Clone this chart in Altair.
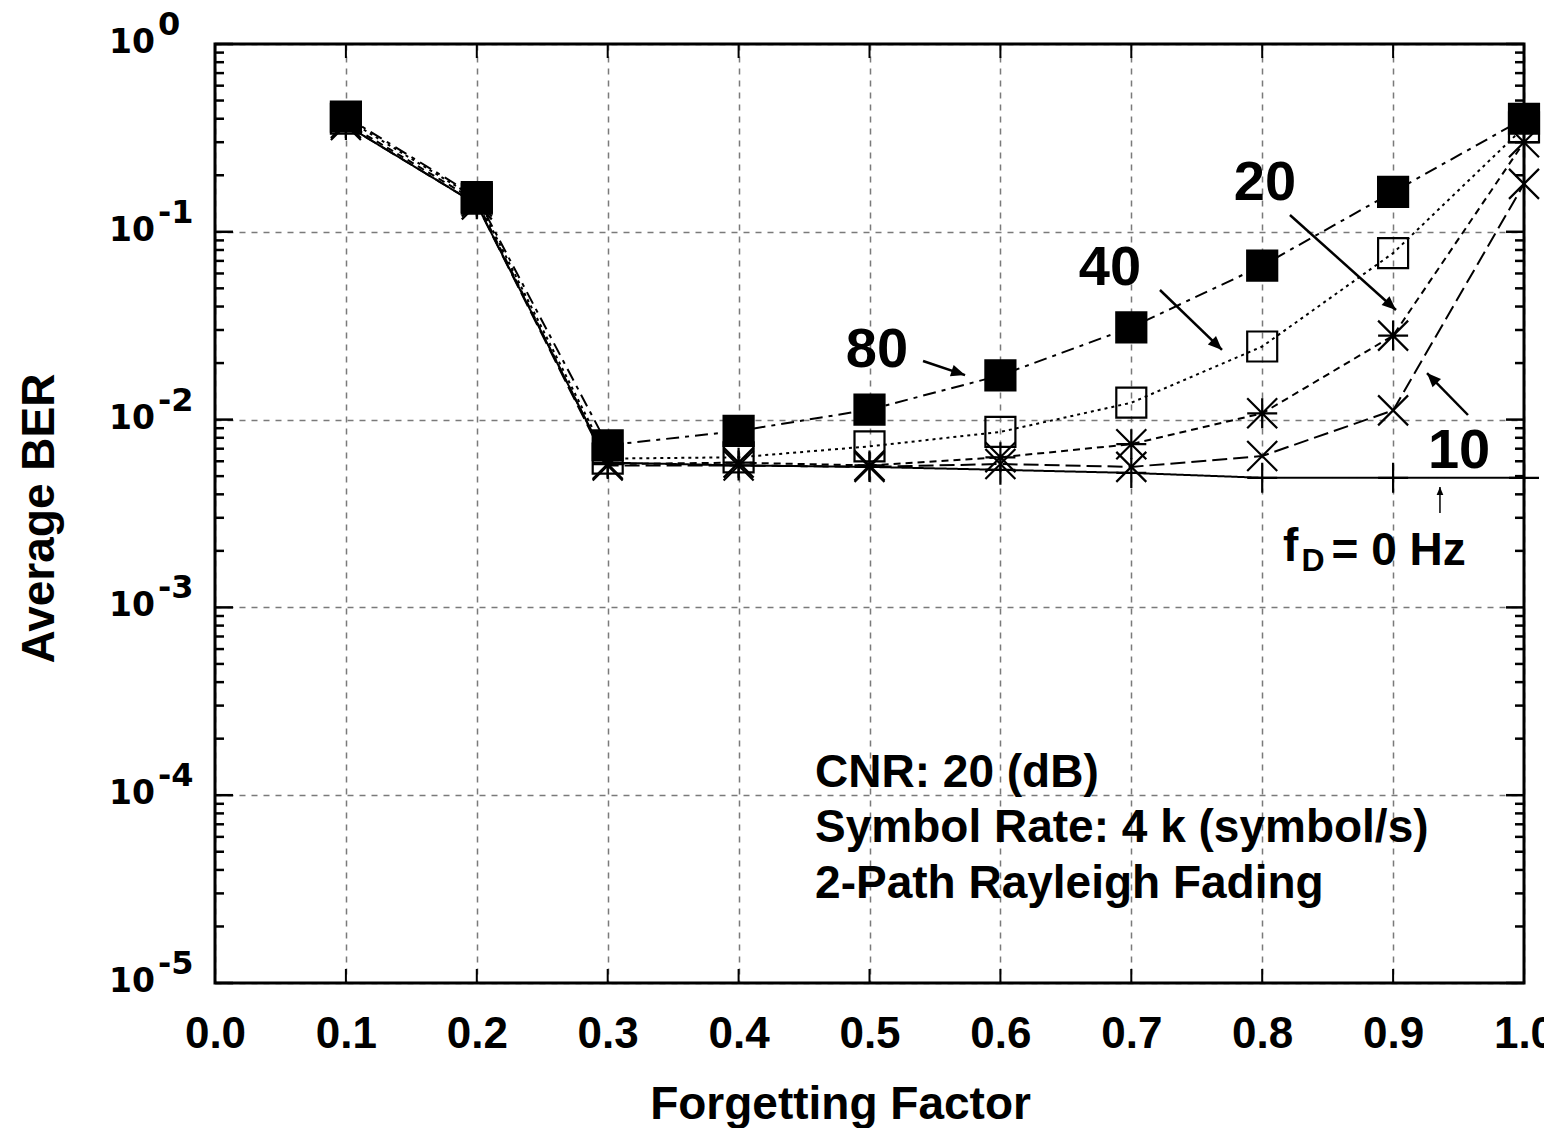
import math
import altair as alt
import pandas as pd

# ---------------- data ----------------
forgetting = [0.1, 0.2, 0.3, 0.4, 0.5, 0.6, 0.7, 0.8, 0.9, 1.0]
ber_80 = [0.41, 0.153, 0.0073, 0.0087, 0.0113, 0.0172, 0.031, 0.066, 0.163, 0.40]
ber_40 = [0.40, 0.150, 0.0062, 0.0063, 0.0072, 0.0086, 0.0123, 0.0245, 0.077, 0.36]
ber_20 = [0.38, 0.145, 0.0058, 0.0059, 0.0057, 0.0063, 0.0074, 0.0108, 0.028, 0.30]
ber_10 = [0.37, 0.140, 0.0057, 0.0057, 0.0056, 0.0058, 0.0056, 0.0064, 0.0112, 0.18]
ber_0 = [0.37, 0.140, 0.0059, 0.0057, 0.0056, 0.0054, 0.0052, 0.0049, 0.0049, 0.0049]
series_names = ["0", "10", "20", "40", "80"]

x_ticks = [0.0, 0.1, 0.2, 0.3, 0.4, 0.5, 0.6, 0.7, 0.8, 0.9, 1.0]
decades = [1e0, 1e-1, 1e-2, 1e-3, 1e-4, 1e-5]
decade_exp = ["0", "-1", "-2", "-3", "-4", "-5"]

# annotation labels (data coordinates)
ann_text = ["80", "40", "20", "10", "f", "D", "= 0 Hz",
            "CNR: 20 (dB)", "Symbol Rate: 4 k (symbol/s)", "2-Path Rayleigh Fading"]
ann_x = [0.5057, 0.6837, 0.8021, 0.9504, 0.8159, 0.8300, 0.8530, 0.4584, 0.4584, 0.4584]
ann_y = [0.01905, 0.0521, 0.1477, 0.00552, 0.00176, 0.00156, 0.00168, 1.104e-4, 5.63e-5, 2.84e-5]
ann_size = [56, 56, 56, 56, 46, 32, 46, 46, 46, 46]
ann_align = ["center", "center", "center", "center", "left", "left", "left", "left", "left", "left"]

# arrows (tail -> head, data coordinates)
arr_x1 = [0.5409, 0.7219, 0.8212, 0.9572, 0.9358]
arr_y1 = [0.02051, 0.04898, 0.1229, 0.01058, 0.003183]
arr_x2 = [0.5730, 0.7693, 0.9022, 0.9259, 0.9358]
arr_y2 = [0.01726, 0.02349, 0.03835, 0.01770, 0.004376]
arr_w = [2.5, 2.5, 2.5, 2.5, 1.5]
arr_head = [784, 784, 784, 784, 256]

# ---------------- layout ----------------
W, H = 1309, 939
FONT = "Liberation Sans"

rows = []
for name, vals in zip(series_names, [ber_0, ber_10, ber_20, ber_40, ber_80]):
    for f, v in zip(forgetting, vals):
        rows.append({"ff": f, "ber": v, "fd": name})
df = pd.DataFrame(rows)

xs = alt.Scale(domain=[0, 1], nice=False, zero=False)
ys = alt.Scale(type="log", domain=[1e-5, 1], nice=False)

x_axis = alt.Axis(
    values=x_ticks, format=".1f", labelFont=FONT, labelFontWeight="bold",
    labelFontSize=44, labelColor="black", labelPadding=29, labelFlush=False,
    labelOverlap=False, ticks=False, tickSize=0, domain=False,
    grid=True, gridDash=[6, 6], gridColor="#7a7a7a", gridWidth=1.5,
    title="Forgetting Factor", titleFont=FONT, titleFontWeight="bold",
    titleFontSize=46, titleColor="black", titleX=625, titleY=135,
    titleBaseline="alphabetic", titleAlign="center",
)
y_axis = alt.Axis(
    values=decades, labels=False, ticks=False, tickSize=0, domain=False,
    grid=True, gridDash=[6, 6], gridColor="#7a7a7a", gridWidth=1.5,
    title="Average BER", titleFont=FONT, titleFontWeight="bold",
    titleFontSize=46, titleColor="black", titleX=-176, titleY=474,
    titleAngle=270, titleBaseline="middle", titleAlign="center",
)


def X(field):
    return alt.X(field, type="quantitative", scale=xs, axis=x_axis)


def Y(field):
    return alt.Y(field, type="quantitative", scale=ys, axis=y_axis)


dash_scale = alt.Scale(domain=series_names,
                       range=[[1, 0], [15, 6], [7, 5], [3, 4], [13, 6, 4, 6]])

lines = alt.Chart(df).mark_line(strokeWidth=2, color="black").encode(
    x=X("ff"), y=Y("ber"),
    strokeDash=alt.StrokeDash("fd:N", scale=dash_scale, legend=None),
    detail="fd:N",
    order="ff:Q",
)

plus_path = "M-1,0L1,0M0,-1L0,1"
x_path = "M-1,-1L1,1M-1,1L1,-1"
star_path = "M-1,0L1,0M0,-1L0,1M-1,-1L1,1M-1,1L1,-1"
shape_scale = alt.Scale(domain=series_names,
                        range=[plus_path, x_path, star_path, "square", "square"])
fill_scale = alt.Scale(domain=series_names,
                       range=["transparent", "transparent", "transparent", "transparent", "black"])
size_scale = alt.Scale(domain=series_names, range=[900, 900, 900, 900, 1000])

points = alt.Chart(df).mark_point(strokeWidth=2.2, opacity=1).encode(
    x=X("ff"), y=Y("ber"),
    shape=alt.Shape("fd:N", scale=shape_scale, legend=None),
    fill=alt.Fill("fd:N", scale=fill_scale, legend=None),
    size=alt.Size("fd:N", scale=size_scale, legend=None),
    stroke=alt.value("black"),
)

# ---------------- frame & inward tick marks ----------------
frame = alt.Chart(pd.DataFrame({"k": [0]})).mark_rect(
    fill="transparent", stroke="black", strokeWidth=3,
).encode(x=alt.value(0), x2=alt.value(W), y=alt.value(0), y2=alt.value(H))

minor = [k * 10 ** d for d in range(-5, 0) for k in range(2, 10)]
major_df = pd.DataFrame({"v": decades})
minor_df = pd.DataFrame({"v": minor})
xt_df = pd.DataFrame({"x": x_ticks[1:-1]})


def yticks(data, x0, x1):
    return alt.Chart(data).mark_rule(color="black", strokeWidth=2.5).encode(
        y=Y("v"), x=alt.value(x0), x2=alt.value(x1))


def xticks(y0, y1):
    return alt.Chart(xt_df).mark_rule(color="black", strokeWidth=2).encode(
        x=X("x"), y=alt.value(y0), y2=alt.value(y1))


tick_layers = [
    yticks(major_df, 0, 18), yticks(major_df, W - 18, W),
    yticks(minor_df, 0, 9), yticks(minor_df, W - 9, W),
    xticks(H, H - 14), xticks(0, 14),
]

# ---------------- y tick labels 10^n ----------------
lab_df = pd.DataFrame({"v": decades, "e": decade_exp})
ylab_base = alt.Chart(lab_df).mark_text(
    font="DejaVu Sans", fontWeight="bold", fontSize=33, align="right",
    baseline="alphabetic", dy=9, color="black",
).encode(y=Y("v"), x=alt.value(-60), text=alt.value("10"))
ylab_exp = alt.Chart(lab_df).mark_text(
    font="DejaVu Sans", fontWeight="bold", fontSize=32, align="left",
    baseline="alphabetic", dy=-9, color="black",
).encode(y=Y("v"), x=alt.value(-57), text="e:N")

# ---------------- annotations ----------------
ann_df = pd.DataFrame({"t": ann_text, "x": ann_x, "y": ann_y,
                       "s": ann_size, "a": ann_align})
ann_center = alt.Chart(ann_df[ann_df.a == "center"]).mark_text(
    font=FONT, fontWeight="bold", align="center", baseline="alphabetic", color="black",
).encode(x=X("x"), y=Y("y"), text="t:N", size=alt.Size("s:Q", scale=None))
ann_left = alt.Chart(ann_df[ann_df.a == "left"]).mark_text(
    font=FONT, fontWeight="bold", align="left", baseline="alphabetic", color="black",
).encode(x=X("x"), y=Y("y"), text="t:N", size=alt.Size("s:Q", scale=None))


def to_px(x, y):
    return x * W, -math.log10(y) / 5 * H


angles = []
for x1, y1, x2, y2 in zip(arr_x1, arr_y1, arr_x2, arr_y2):
    p1, p2 = to_px(x1, y1), to_px(x2, y2)
    dx, dy = p2[0] - p1[0], p2[1] - p1[1]
    angles.append(math.degrees(math.atan2(dx, -dy)) % 360)

arr_df = pd.DataFrame({"x1": arr_x1, "y1": arr_y1, "x2": arr_x2, "y2": arr_y2,
                       "w": arr_w, "hs": arr_head, "ang": angles})
arrow_shafts = alt.Chart(arr_df).mark_rule(color="black").encode(
    x=X("x1"), y=Y("y1"),
    x2="x2:Q", y2="y2:Q", strokeWidth=alt.StrokeWidth("w:Q", scale=None),
)
arrow_heads = alt.Chart(arr_df).mark_point(
    shape="M0,0L-0.42,1L0.42,1Z", filled=True, opacity=1, color="black",
).encode(
    x=X("x2"), y=Y("y2"),
    angle=alt.Angle("ang:Q", scale=None), size=alt.Size("hs:Q", scale=None),
)

chart = alt.layer(
    lines, *tick_layers, points, ylab_base, ylab_exp,
    ann_center, ann_left, arrow_shafts, arrow_heads, frame,
).resolve_scale(size="independent").properties(
    width=W, height=H,
    autosize=alt.AutoSizeParams(type="none"),
    padding={"left": 207, "top": 36, "right": 20, "bottom": 145},
).configure_view(stroke=None).configure(background="white")

chart.save("out.html", embed_options={"renderer": "svg", "actions": False})
